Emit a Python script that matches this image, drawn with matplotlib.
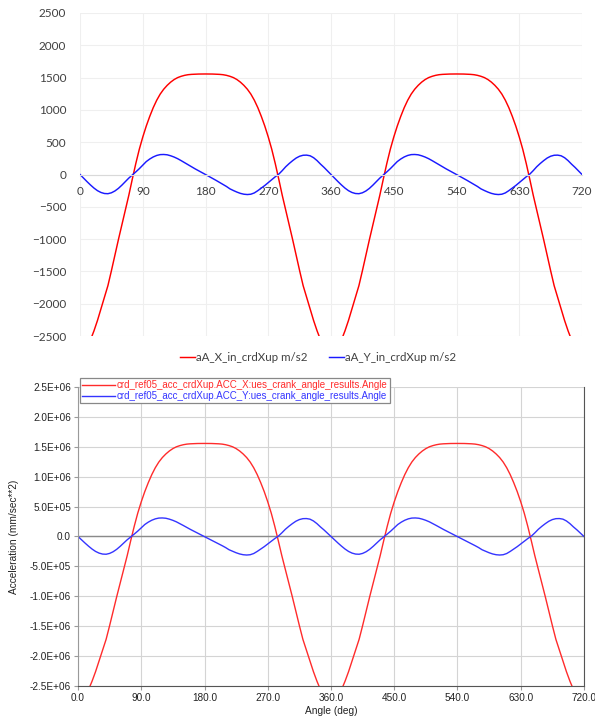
# -*- coding: utf-8 -*-
"""Aceleración del punto A (crdXup) vs ángulo de cigüeñal: hoja de cálculo arriba, post-proceso abajo."""
import matplotlib
matplotlib.use("Agg")
import matplotlib.pyplot as plt
from matplotlib.ticker import FixedLocator, FixedFormatter

# ── datos (ángulo en grados, aceleración en m/s2) ───────────────────────────
ANGLE = list(range(0, 721, 5))

ACC_X = [-2750, -2730, -2660, -2560, -2420, -2260, -2080, -1900, -1720, -1490,
         -1250, -1010, -780, -550, -320, -70, 170, 390, 580, 750,
         900, 1035, 1150, 1245, 1320, 1380, 1430, 1470, 1500, 1520,
         1535, 1545, 1550, 1553, 1555, 1556, 1556, 1556, 1555, 1553,
         1550, 1545, 1535, 1520, 1500, 1470, 1430, 1380, 1320, 1245,
         1150, 1035, 900, 750, 580, 390, 170, -70, -320, -550,
         -780, -1010, -1250, -1490, -1720, -1900, -2080, -2260, -2420, -2560,
         -2660, -2730, -2750,
         -2730, -2660, -2560, -2420, -2260, -2080, -1900, -1720, -1490,
         -1250, -1010, -780, -550, -320, -70, 170, 390, 580, 750,
         900, 1035, 1150, 1245, 1320, 1380, 1430, 1470, 1500, 1520,
         1535, 1545, 1550, 1553, 1555, 1556, 1556, 1556, 1555, 1553,
         1550, 1545, 1535, 1520, 1500, 1470, 1430, 1380, 1320, 1245,
         1150, 1035, 900, 750, 580, 390, 170, -70, -320, -550,
         -780, -1010, -1250, -1490, -1720, -1900, -2080, -2260, -2420, -2560,
         -2660, -2730, -2750]

ACC_Y = [0, -55, -110, -162, -210, -250, -278, -294, -297, -283,
         -255, -215, -165, -110, -55, -8, 40, 90, 145, 200,
         240, 272, 295, 308, 310, 305, 290, 270, 245, 215,
         183, 150, 118, 88, 58, 29, 0, -30, -60, -90,
         -122, -153, -185, -222, -248, -272, -292, -305, -310, -305,
         -285, -250, -210, -170, -125, -80, -35, 5, 60, 120,
         170, 215, 255, 283, 298, 300, 290, 260, 215, 160,
         110, 55, 0,
         -55, -110, -162, -210, -250, -278, -294, -297, -283,
         -255, -215, -165, -110, -55, -8, 40, 90, 145, 200,
         240, 272, 295, 308, 310, 305, 290, 270, 245, 215,
         183, 150, 118, 88, 58, 29, 0, -30, -60, -90,
         -122, -153, -185, -222, -248, -272, -292, -305, -310, -305,
         -285, -250, -210, -170, -125, -80, -35, 5, 60, 120,
         170, 215, 255, 283, 298, 300, 290, 260, 215, 160,
         110, 55, 0]

X_TICKS = [0, 90, 180, 270, 360, 450, 540, 630, 720]
Y_TICKS_TOP = [-2500, -2000, -1500, -1000, -500, 0, 500, 1000, 1500, 2000, 2500]
Y_TICKS_BOT = [-2.5e6, -2.0e6, -1.5e6, -1.0e6, -5.0e5, 0.0, 5.0e5, 1.0e6, 1.5e6, 2.0e6, 2.5e6]
Y_LABELS_BOT = ["-2.5E+06", "-2.0E+06", "-1.5E+06", "-1.0E+06", "-5.0E+05", "0.0",
                "5.0E+05", "1.0E+06", "1.5E+06", "2.0E+06", "2.5E+06"]
X_LABELS_BOT = ["0.0", "90.0", "180.0", "270.0", "360.0", "450.0", "540.0", "630.0", "720.0"]

NAME_X_TOP = "aA_X_in_crdXup m/s2"
NAME_Y_TOP = "aA_Y_in_crdXup m/s2"
NAME_X_BOT = "crd_ref05_acc_crdXup.ACC_X:ues_crank_angle_results.Angle"
NAME_Y_BOT = "crd_ref05_acc_crdXup.ACC_Y:ues_crank_angle_results.Angle"

RED = "#ff0000"; BLUE = "#1a1aff"
RED2 = "#ff2b2b"; BLUE2 = "#3434ff"

fig = plt.figure(figsize=(5.95, 7.18), dpi=100)
fig.patch.set_facecolor("white")

# ── arriba: estilo hoja de cálculo ──────────────────────────────────────────
ax1 = fig.add_axes([0.1345, 0.532, 0.8437, 0.4499])
ax1.plot(ANGLE, ACC_X, color=RED, lw=1.05, label=NAME_X_TOP)
ax1.plot(ANGLE, ACC_Y, color=BLUE, lw=1.05, label=NAME_Y_TOP)
ax1.set_xlim(0, 720); ax1.set_ylim(-2500, 2500)
ax1.xaxis.set_major_locator(FixedLocator(X_TICKS))
ax1.yaxis.set_major_locator(FixedLocator(Y_TICKS_TOP))
ax1.grid(True, color="#efefef", lw=0.8)
ax1.set_axisbelow(True)
for s in ("top", "right", "left"):
    ax1.spines[s].set_visible(False)
ax1.spines["bottom"].set_position(("data", 0))
ax1.spines["bottom"].set_color("#d9d9d9")
ax1.tick_params(length=0, labelsize=8.5, colors="#404040")
ax1.tick_params(axis="x", pad=8)
ax1.tick_params(axis="y", pad=10)
for t in ax1.get_xticklabels() + ax1.get_yticklabels():
    t.set_fontfamily("Lato")
leg1 = ax1.legend(loc="center", bbox_to_anchor=(0.474, -0.068), ncol=2, frameon=False,
                  prop={"family": "Lato", "size": 8.3}, handlelength=1.3,
                  handletextpad=0.15, columnspacing=1.8)
for t in leg1.get_texts():
    t.set_color("#404040")

# ── abajo: estilo post-procesador ───────────────────────────────────────────
ax2 = fig.add_axes([0.1311, 0.0446, 0.8504, 0.4164])
ax2.plot(ANGLE, [v * 1000 for v in ACC_X], color=RED2, lw=1.0, label=NAME_X_BOT)
ax2.plot(ANGLE, [v * 1000 for v in ACC_Y], color=BLUE2, lw=1.0, label=NAME_Y_BOT)
ax2.set_xlim(0, 720); ax2.set_ylim(-2.5e6, 2.5e6)
ax2.xaxis.set_major_locator(FixedLocator(X_TICKS))
ax2.xaxis.set_major_formatter(FixedFormatter(X_LABELS_BOT))
ax2.yaxis.set_major_locator(FixedLocator(Y_TICKS_BOT))
ax2.yaxis.set_major_formatter(FixedFormatter(Y_LABELS_BOT))
ax2.grid(True, color="#d4d4d4", lw=0.8)
ax2.set_axisbelow(True)
ax2.axhline(0, color="#8a8a8a", lw=1.0, zorder=1.5)
ax2.spines["top"].set_visible(False)
ax2.spines["left"].set_color("#9a9a9a")
ax2.spines["bottom"].set_color("#555555")
ax2.spines["right"].set_color("#555555")
ax2.tick_params(direction="out", length=3, width=0.8, color="#9a9a9a",
                labelsize=7.2, labelcolor="#222222", pad=2)
for t in ax2.get_xticklabels() + ax2.get_yticklabels():
    t.set_fontfamily("Liberation Sans")
ax2.set_xlabel("Angle (deg)", fontsize=7.3, family="Liberation Sans", color="#222222", labelpad=2)
ax2.set_ylabel("Acceleration (mm/sec**2)", fontsize=7.3, family="Liberation Sans",
               color="#222222", labelpad=8)
leg2 = ax2.legend(loc="upper left", bbox_to_anchor=(0.003, 1.03), fancybox=False,
                  prop={"family": "Liberation Sans", "size": 7}, handlelength=3.4,
                  handletextpad=0.2, borderpad=0.25, labelspacing=0.05,
                  borderaxespad=0, framealpha=1)
leg2.get_frame().set_edgecolor("#888888")
leg2.get_frame().set_linewidth(0.9)
for t, c in zip(leg2.get_texts(), (RED2, BLUE2)):
    t.set_color(c)

fig.savefig("out.png", dpi=100, facecolor="white")
